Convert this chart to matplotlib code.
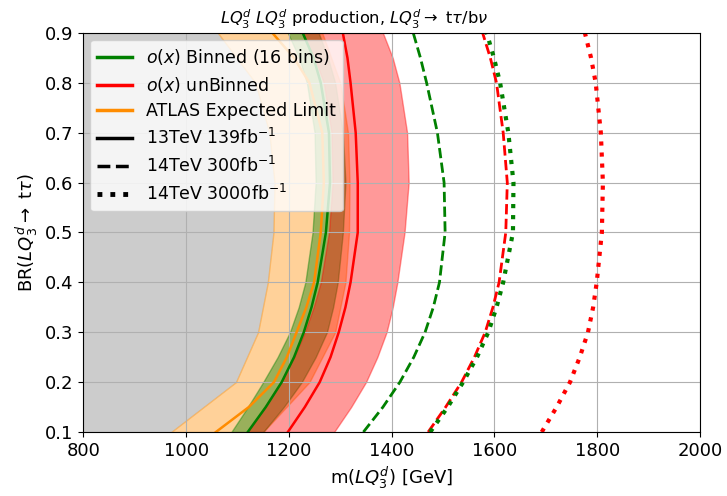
import matplotlib
matplotlib.use("Agg")
import matplotlib.pyplot as plt

# branching ratio grid for the ATLAS band (tabulated in 0.1 steps)
br_atlas = [0.1, 0.2, 0.3, 0.4, 0.5, 0.6, 0.7, 0.8, 0.9]
atlas_lo = [971, 1097, 1140, 1159, 1170, 1172, 1162, 1135, 1062]
atlas_hi = [1150, 1240, 1290, 1310, 1317, 1318, 1315, 1300, 1265]

# finer branching ratio grid for the fitted contours
br = [0.1, 0.15, 0.2, 0.25, 0.3, 0.35, 0.4, 0.5, 0.6, 0.7, 0.8, 0.85, 0.9]

# ATLAS 13TeV expected limit
atlas_exp = [1058, 1122, 1171, 1196, 1215, 1234, 1249, 1262, 1268, 1265, 1240, 1210, 1168]

# o(x) binned, 13TeV 139fb-1
bin13_lo = [1088, 1120, 1150, 1178, 1202, 1219, 1232, 1246, 1252, 1250, 1235, 1220, 1198]
bin13_hi = [1150, 1190, 1225, 1252, 1274, 1286, 1295, 1305, 1310, 1305, 1290, 1276, 1258]
bin13 = [1120, 1155, 1186, 1210, 1229, 1244, 1256, 1272, 1280, 1278, 1262, 1248, 1227]

# o(x) unbinned, 13TeV 139fb-1
unbin13_lo = [1120, 1153, 1185, 1210, 1231, 1248, 1262, 1278, 1285, 1283, 1268, 1250, 1225]
unbin13_hi = [1288, 1321, 1350, 1372, 1390, 1402, 1411, 1425, 1433, 1430, 1415, 1402, 1383]
unbin13 = [1198, 1231, 1260, 1281, 1297, 1310, 1320, 1334, 1334, 1330, 1320, 1314, 1305]

# 14TeV projections
bin300 = [1345, 1383, 1416, 1443, 1465, 1481, 1493, 1504, 1502, 1489, 1468, 1456, 1442]
unbin300 = [1471, 1505, 1536, 1561, 1582, 1597, 1609, 1622, 1625, 1617, 1604, 1592, 1577]
bin3000 = [1475, 1509, 1539, 1566, 1588, 1604, 1617, 1636, 1637, 1627, 1611, 1599, 1585]
unbin3000 = [1692, 1721, 1747, 1766, 1782, 1792, 1799, 1809, 1811, 1807, 1797, 1788, 1776]

fig = plt.figure(figsize=(7.27, 4.96), dpi=100)
ax = fig.add_axes([0.1146, 0.129, 0.8483, 0.8045])

# excluded region left of the ATLAS band
ax.fill_betweenx(br_atlas, 800, atlas_lo, color='gray', alpha=0.4, lw=0)
ax.fill_betweenx(br_atlas, atlas_lo, atlas_hi, color='darkorange', alpha=0.4)
ax.fill_betweenx(br, bin13_lo, bin13_hi, color='green', alpha=0.4)
ax.fill_betweenx(br, unbin13_lo, unbin13_hi, color='red', alpha=0.4)

ax.plot(atlas_exp, br, color='darkorange', lw=1.8)
ax.plot(bin13, br, color='green', lw=1.8)
ax.plot(unbin13, br, color='red', lw=1.8)

ax.plot(bin300, br, color='green', lw=2, ls='--')
ax.plot(unbin300, br, color='red', lw=2, ls='--')
ax.plot(bin3000, br, color='green', lw=3, ls=':')
ax.plot(unbin3000, br, color='red', lw=3, ls=':')

# legend proxies
ax.plot([], [], color='green', lw=2.5, label='$o(x)$ Binned (16 bins)')
ax.plot([], [], color='red', lw=2.5, label='$o(x)$ unBinned')
ax.plot([], [], color='darkorange', lw=2.5, label='ATLAS Expected Limit')
ax.plot([], [], color='black', lw=2.5, label='13TeV 139fb$^{-1}$')
ax.plot([], [], color='black', lw=2.5, ls='--', label='14TeV 300fb$^{-1}$')
ax.plot([], [], color='black', lw=3.5, ls=':', label='14TeV 3000fb$^{-1}$')

ax.set_xlim(800, 2000)
ax.set_ylim(0.1, 0.9)
ax.set_xticks([800, 1000, 1200, 1400, 1600, 1800, 2000])
ax.set_yticks([0.1, 0.2, 0.3, 0.4, 0.5, 0.6, 0.7, 0.8, 0.9])
ax.tick_params(labelsize=13)
ax.grid(True)

ax.set_xlabel(r'm($LQ_3^d$) [GeV]', fontsize=13)
ax.set_ylabel(r'BR($LQ_3^d\rightarrow$ t$\tau$)', fontsize=13)
ax.set_title(r'$LQ_3^d$ $LQ_3^d$ production, $LQ_3^d\rightarrow$ t$\tau$/b$\nu$',
             fontsize=11.7, x=0.439)
ax.legend(loc='upper left', fontsize=12.5, borderaxespad=0.4, labelspacing=0.45)

fig.savefig('out.png', dpi=100)
